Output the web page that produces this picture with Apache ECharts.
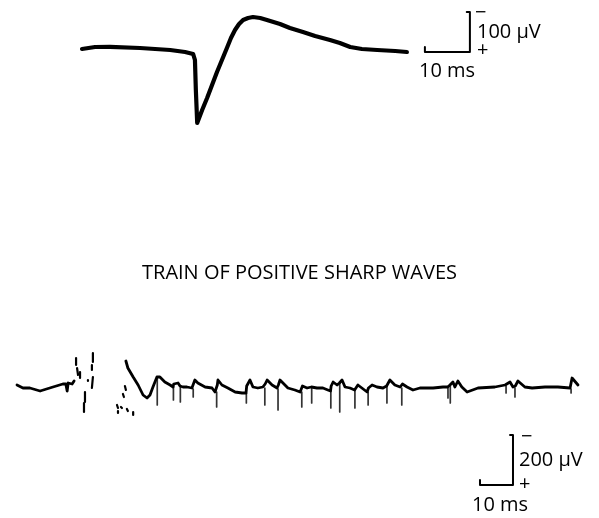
<!DOCTYPE html>
<html>
<head>
<meta charset="utf-8">
<script src="https://cdn.jsdelivr.net/npm/echarts@6/dist/echarts.min.js"></script>
<style>
html,body{margin:0;padding:0;background:#fff;}
#chart{width:599px;height:518px;}
</style>
</head>
<body>
<div id="chart"></div>
<script>
// ---- Data (time in ms, voltage in µV; negative up, positive down) ----
var titleText = 'TRAIN OF POSITIVE SHARP WAVES';

// Single positive sharp wave (top)
var topTrace = [
  [0,-2.5],[2.9,-7.5],[6.2,-8],[12.9,-5],[19.6,0],[22.9,5],[24.7,10],[25.1,25],[25.3,100],
  [25.6,182.5],[26.7,150],[27.8,120],[28.9,87.5],[30.0,55],[31.1,25],[32.2,-5],[33.1,-30],
  [34.0,-50],[34.9,-65],[35.8,-75],[36.9,-80],[38.0,-82.5],[39.6,-80],[41.1,-75],[44.0,-65],
  [46.2,-55],[49.1,-45],[51.8,-35],[55.1,-25],[57.3,-17.5],[59.6,-7.5],[62.2,-2.5],[65.6,0],
  [69.6,2.5],[72.2,5]
];
var topScaleBar = [[76.2,-7.5],[76.2,5],[86.2,5],[86.2,-95],[85.5,-95]];
var topScaleLabels = {time:'10 ms', volt:'100 µV', neg:'−', pos:'+'};

// Train of positive sharp waves (bottom)
var bottomLead = [
  [0,-12],[1.8,0],[3.9,0],[7.0,12],[10.9,-4],[13.9,-16],[14.8,-16],[15.2,12],[15.5,-20],
  [16.7,-16],[17.3,-28]
];
var bottomFragments = [
  [[17.9,-120],[17.9,-92]],
  [[18.2,-80],[18.5,-52]],
  [[19.1,-64],[19.1,-40]],
  [[20.6,16],[20.6,56]],
  [[20.3,60],[20.3,96]],
  [[23.0,-140],[23.0,-104]],
  [[22.7,-92],[22.7,-72]],
  [[23.0,-44],[22.7,0]],
  [[21.5,-32],[21.5,-28]],
  [[32.7,-8],[33.0,8]],
  [[32.1,24],[32.4,36]],
  [[30.3,68],[30.6,80]],
  [[30.6,92],[30.6,100]],
  [[31.5,76],[31.8,80]],
  [[33.3,84],[33.6,92]],
  [[35.2,96],[35.2,108]]
];
var bottomTrace = [
  [33.0,-108],[33.6,-80],[35.2,-44],[36.7,-12],[38.2,28],[39.4,40],[40.3,28],[41.2,-4],[41.8,-24],
  [42.4,-44],[42.7,-48],[43.3,-44],[44.8,-24],[46.4,-12],[47.3,-4],[47.5,-16],
  [48.8,-20],[49.4,-8],[49.6,-16],[50.3,-4],[51.5,-4],[53.0,0],[53.3,4],[53.6,-8],
  [53.9,-32],[54.8,-20],[57.0,-4],[59.1,0],[60.0,16],[60.4,20],[60.7,-12],[60.9,-32],
  [62.1,-12],[63.9,0],[66.1,16],[68.2,20],[69.4,20],[69.6,-8],[70.6,-32],[71.5,-4],
  [73.0,0],[74.5,-4],[75.0,0],[75.2,-16],[75.8,-32],[77.3,-12],[78.8,0],[79.0,4],
  [79.2,-12],[79.7,-32],[80.6,-20],[82.1,0],[84.2,8],[85.8,16],[86.2,20],[86.5,-8],
  [86.7,-12],[87.9,0],[89.2,-4],[89.5,-8],[89.7,-12],[90.9,0],[92.7,0],[94.2,8],[95.0,12],
  [95.2,-8],[95.8,-24],[97.0,-12],[97.7,-20],[98.0,-24],[98.5,-32],[99.4,-4],
  [100.9,0],[102.3,8],[102.5,0],[103.3,-12],[104.5,0],[106.1,16],[106.3,20],
  [106.5,0],[107.6,-12],[109.1,-4],[110.9,0],[112.0,-8],[112.2,-16],[113.0,-32],
  [114.5,-12],[116.1,-4],[116.5,0],[116.8,-16],[117.0,-24],[118.2,-4],[120.0,8],
  [122.1,0],[126.1,0],[129.1,-4],[130.5,-4],[130.7,-8],[131.2,-12],[131.5,-16],
  [132.1,-24],[132.7,-4],[133.6,-28],[134.8,-4],[136.4,16],[139.7,0],[144.8,-4],[147.9,-12],
  [148.1,-8],[148.3,-12],[149.4,-24],[150.3,-4],[150.8,0],[151.0,-8],
  [151.8,-28],[153.9,-4],[156.1,0],[160.0,-4],[163.9,-4],[167.6,0],[167.8,4],[168.0,-8],
  [168.2,-40],[170.0,-12]
];
// Sharp positive spikes: [time, start µV, end µV]
var bottomSpikes = [
  [42.5,-44,68],[47.4,-4,48],[49.5,-8,56],[53.4,4,36],[60.5,16,76],[69.5,20,60],[75.1,0,68],
  [79.1,4,88],[86.3,16,76],[89.3,-4,60],[95.1,8,80],[97.8,-20,96],[102.4,8,80],[106.4,16,68],
  [112.1,-8,60],[116.6,0,68],[130.6,-4,40],[131.3,-12,60],[148.2,-8,20],[150.9,0,36],[167.9,4,20]
];
var bottomScaleBar = [[140.3,368],[140.3,388],[150.3,388],[150.3,188],[149.4,188]];
var bottomScaleLabels = {time:'10 ms', volt:'200 µV', neg:'−', pos:'+'};

// ---- Chart ----
var FONT = 'Open Sans';
var chart = echarts.init(document.getElementById('chart'), null, {renderer:'canvas'});

function hiddenX(idx, max){
  return {type:'value', gridIndex:idx, min:0, max:max, show:false};
}
function hiddenY(idx, min, max){
  return {type:'value', gridIndex:idx, min:min, max:max, inverse:true, show:false};
}
function lineSeries(data, xi, width, color){
  return {
    type:'line', xAxisIndex:xi, yAxisIndex:xi, data:data, showSymbol:false, symbol:'none',
    silent:true, animation:false,
    lineStyle:{color:color || '#000', width:width, cap:'round', join:'round'}
  };
}

var series = [
  lineSeries(topTrace, 0, 4.2),
  lineSeries(topScaleBar, 0, 2),
  lineSeries(bottomLead, 1, 2.8),
  lineSeries(bottomScaleBar, 1, 2)
];
bottomSpikes.forEach(function(s){
  series.push(lineSeries([[s[0], s[1]], [s[0], s[2]]], 1, 1.7, '#333'));
});
series.push(lineSeries(bottomTrace, 1, 2.8));
bottomFragments.forEach(function(f){ series.push(lineSeries(f, 1, 2.2)); });

function txt(text, left, top, size){
  return {type:'text', left:left, top:top, silent:true,
    style:{text:text, fill:'#000', font:'normal ' + size + 'px "' + FONT + '"'}};
}

chart.setOption({
  backgroundColor:'#fff',
  animation:false,
  title:{
    text:titleText, left:'center', top:258,
    textStyle:{fontFamily:FONT, fontSize:20, fontWeight:'normal', color:'#000'}
  },
  grid:[
    {left:82, right:22, top:10, height:120},
    {left:17, right:21, top:348, height:140}
  ],
  xAxis:[hiddenX(0,110), hiddenX(1,170)],
  yAxis:[hiddenY(0,-100,200), hiddenY(1,-160,400)],
  series:series,
  graphic:[
    txt(topScaleLabels.neg, 475, 3, 20),
    txt(topScaleLabels.volt, 477, 22, 20),
    txt(topScaleLabels.pos, 477, 40, 20),
    txt(topScaleLabels.time, 419, 61, 20),
    txt(bottomScaleLabels.neg, 521, 427, 20),
    txt(bottomScaleLabels.volt, 519, 450, 20),
    txt(bottomScaleLabels.pos, 519, 474, 20),
    txt(bottomScaleLabels.time, 472, 495, 20)
  ]
});
</script>
</body>
</html>
